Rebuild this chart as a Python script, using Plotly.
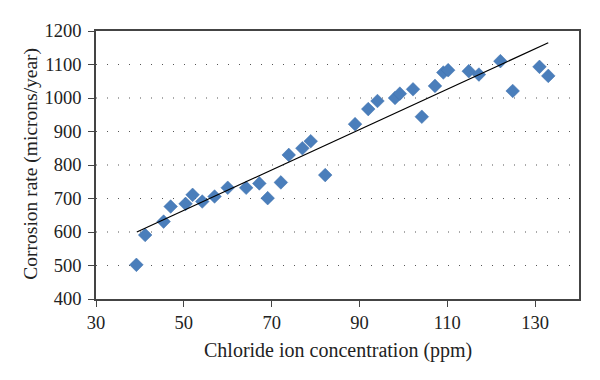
import plotly.graph_objects as go

chloride_ppm = [39.2, 41.2, 45.4, 47.0, 50.4, 52.0, 54.2, 57.0, 60.0, 64.2, 67.2, 69.1,
                72.1, 73.9, 77.0, 78.9, 82.2, 89.0, 92.0, 94.1, 98.1, 99.2, 102.2, 104.2,
                107.2, 109.1, 110.2, 114.9, 117.2, 122.1, 124.9, 131.0, 133.0]
corrosion_rate = [502, 591, 631, 676, 684, 711, 691, 706, 732, 732, 745, 701,
                  748, 830, 850, 871, 770, 922, 967, 991, 1000, 1013, 1026, 944,
                  1036, 1076, 1083, 1080, 1070, 1110, 1021, 1093, 1066]
trend_x = [39.3, 133.0]
trend_y = [600, 1165]

x_ticks = [30, 50, 70, 90, 110, 130]
y_ticks = [400, 500, 600, 700, 800, 900, 1000, 1100, 1200]

x_title = "Chloride ion concentration (ppm)"
y_title = "Corrosion rate (microns/year)"

font_family = "Liberation Serif, DejaVu Serif, serif"

fig = go.Figure()
# dotted horizontal gridlines at interior ticks
for yv in y_ticks[1:-1]:
    fig.add_shape(type="line", xref="paper", yref="y", x0=0, x1=1, y0=yv, y1=yv,
                  line=dict(color="#555555", width=1.2, dash="1px,10px"), layer="below")

fig.add_trace(go.Scatter(
    x=chloride_ppm, y=corrosion_rate, mode="markers",
    marker=dict(symbol="diamond", size=10.5, color="#4a7ebb",
                line=dict(width=0.5, color="#3f70ad")),
    showlegend=False, hoverinfo="x+y"))
fig.add_trace(go.Scatter(
    x=trend_x, y=trend_y, mode="lines",
    line=dict(color="black", width=1.2),
    showlegend=False, hoverinfo="skip"))

fig.update_layout(
    width=592, height=372,
    margin=dict(l=88, r=21, t=23, b=81, autoexpand=False),
    paper_bgcolor="white", plot_bgcolor="white",
    font=dict(family=font_family, size=18.5, color="#222222"),
    xaxis=dict(range=[30, 140], tickvals=x_ticks, ticks="outside", ticklen=6,
               tickcolor="#444444", showline=True, linecolor="#444444", linewidth=1.5,
               mirror=True, showgrid=False, zeroline=False, automargin=False),
    yaxis=dict(range=[400, 1200], tickvals=y_ticks, ticks="outside", ticklen=6,
               tickcolor="#444444", showline=True, linecolor="#444444", linewidth=1.5,
               mirror=True, showgrid=False, zeroline=False, automargin=False,
               ticklabelstandoff=3),
    annotations=[
        dict(text=x_title, xref="paper", yref="paper", x=0.5, y=0, yshift=-51,
             xanchor="center", yanchor="middle", showarrow=False, font=dict(size=20)),
        dict(text=y_title, xref="paper", yref="paper", x=0, xshift=-65, y=0.505,
             xanchor="center", yanchor="middle", showarrow=False, textangle=-90,
             font=dict(size=19.5)),
    ],
)

fig.write_html("out.html")
